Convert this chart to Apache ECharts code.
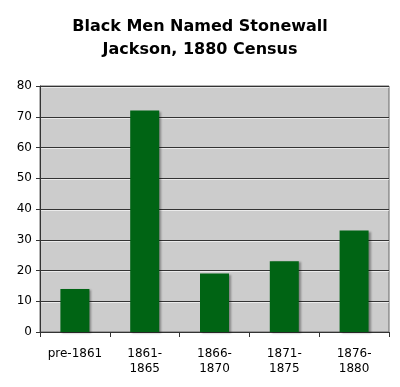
<!DOCTYPE html>
<html><head><meta charset="utf-8">
<script src="https://cdn.jsdelivr.net/npm/echarts@6/dist/echarts.min.js"></script>
<style>html,body{margin:0;padding:0;background:#fff}#c{width:400px;height:387px}</style>
</head><body><div id="c"></div>
<script>
var categories = ['pre-1861', '1861-\n1865', '1866-\n1870', '1871-\n1875', '1876-\n1880'];
var values = [14, 72, 19, 23, 33];
var yTicks = [0, 10, 20, 30, 40, 50, 60, 70, 80];

var chart = echarts.init(document.getElementById('c'), null, {renderer: 'canvas'});
chart.setOption({
  animation: false,
  backgroundColor: '#ffffff',
  title: {
    text: 'Black Men Named Stonewall\nJackson, 1880 Census',
    left: 'center', top: 10,
    textStyle: {fontFamily: 'DejaVu Sans', fontWeight: 'bold', fontSize: 16, color: '#000', lineHeight: 23}
  },
  grid: {left: 40, right: 11, top: 86, bottom: 55, show: true, backgroundColor: '#cccccc', borderColor: '#666', borderWidth: 1},
  xAxis: {
    type: 'category', data: categories,
    axisLine: {lineStyle: {color: '#333', width: 1}},
    axisTick: {show: true, length: 5, lineStyle: {color: '#333'}},
    axisLabel: {interval: 0, fontFamily: 'DejaVu Sans', fontSize: 12, color: '#000', margin: 14, lineHeight: 15, verticalAlign: 'top'}
  },
  yAxis: {
    type: 'value', min: yTicks[0], max: yTicks[yTicks.length - 1], interval: 10,
    axisLine: {show: true, lineStyle: {color: '#333'}},
    axisTick: {show: true, length: 4, lineStyle: {color: '#333'}},
    axisLabel: {fontFamily: 'DejaVu Sans', fontSize: 12, color: '#000', margin: 8},
    splitLine: {show: true, lineStyle: {color: '#333', width: 1, shadowColor: 'rgba(255,255,255,0.6)', shadowOffsetY: 1}}
  },
  series: [{
    type: 'bar', data: values, barWidth: 29,
    itemStyle: {color: '#006414', shadowColor: 'rgba(0,0,0,0.35)', shadowBlur: 2, shadowOffsetX: 2, shadowOffsetY: 1}
  }]
});
</script></body></html>
